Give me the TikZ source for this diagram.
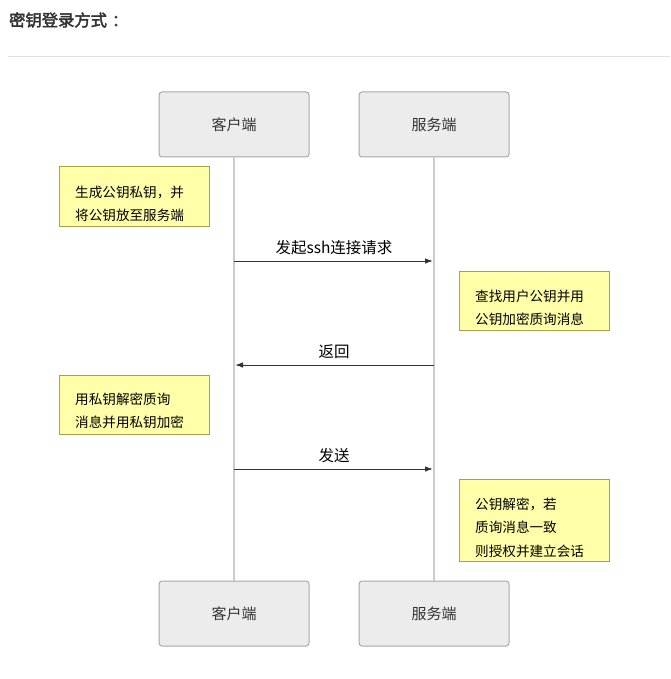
\documentclass[tikz,border=0pt]{standalone}
\usepackage{fontspec}
\setmainfont{Noto Sans CJK SC}
\newfontfamily\cjk{Noto Sans CJK SC}
\newfontfamily\cjkbold[FakeBold=2.5]{Noto Sans CJK SC}
\usetikzlibrary{arrows.meta}
\definecolor{txt}{HTML}{333333}
\definecolor{actfill}{HTML}{ECECEC}
\definecolor{actdraw}{HTML}{A8A8A8}
\definecolor{lifec}{HTML}{CCCCCC}
\definecolor{notefill}{HTML}{FFFFAA}
\definecolor{notedraw}{HTML}{A5A545}
\definecolor{rulec}{HTML}{E2E2E2}
\tikzset{
  actor/.style={draw=actdraw, fill=actfill, line width=1pt, rounded corners=3pt,
    minimum width=150pt, minimum height=65pt, inner sep=0pt,
    font=\cjk\fontsize{15}{18}\selectfont, text=txt},
  lifeline/.style={draw=lifec, line width=1.5pt},
  note/.style={draw=notedraw, fill=notefill, line width=1pt, inner sep=0pt,
    minimum width=150pt},
  notetext/.style={anchor=north west, align=left, inner sep=0pt,
    font=\cjk\fontsize{13.6}{23.2}\selectfont, text=black},
  msg/.style={draw=txt, line width=1pt, -{Latex[length=8pt,width=5.5pt]}, shorten >=1pt},
  msglabel/.style={font=\cjk\fontsize{15.5}{18}\selectfont, text=black, inner sep=0pt}
}
\begin{document}
\begin{tikzpicture}[x=1pt,y=-1pt]
\useasboundingbox (0,0) rectangle (670,679);
% title
\node[anchor=west, inner sep=0pt, font=\cjkbold\fontsize{16.3}{18}\selectfont, text=txt] (title) at (9,20) {密钥登录方式\kern5pt：};
\coordinate (r1) at (8,57);
\coordinate (r2) at (670,57);
\draw[rulec, line width=1pt] (r1) -- (r2);
% actors
\node[actor] (c1) at (234,124.5) {客户端};
\node[actor] (s1) at (434,124.5) {服务端};
\node[actor] (c2) at (234,613.5) {客户端};
\node[actor] (s2) at (434,613.5) {服务端};
\draw[lifeline] (c1.south) -- (c2.north);
\draw[lifeline] (s1.south) -- (s2.north);
% notes
\node[note, minimum height=59pt] (n1) at (134,196.5) {};
\node[notetext] (t1) at (75,186) {生成公钥私钥，并\\将公钥放至服务端};
\node[note, minimum height=59pt] (n2) at (534,300.5) {};
\node[notetext] (t2) at (475,290) {查找用户公钥并用\\公钥加密质询消息};
\node[note, minimum height=59pt] (n3) at (134,404.5) {};
\node[notetext] (t3) at (75,393) {用私钥解密质询\\消息并用私钥加密};
\node[note, minimum height=82pt] (n4) at (534,520) {};
\node[notetext] (t4) at (475,498) {公钥解密，若\\质询消息一致\\则授权并建立会话};
% messages
\coordinate (a1s) at (234,261);
\coordinate (a1e) at (434,261);
\draw[msg] (a1s) -- (a1e);
\node[msglabel] (l1) at (334,248) {发起ssh连接请求};
\coordinate (a2s) at (434,365);
\coordinate (a2e) at (234,365);
\draw[msg] (a2s) -- (a2e);
\node[msglabel] (l2) at (334,352) {返回};
\coordinate (a3s) at (234,469);
\coordinate (a3e) at (434,469);
\draw[msg] (a3s) -- (a3e);
\node[msglabel] (l3) at (334,456) {发送};
\end{tikzpicture}
\end{document}
